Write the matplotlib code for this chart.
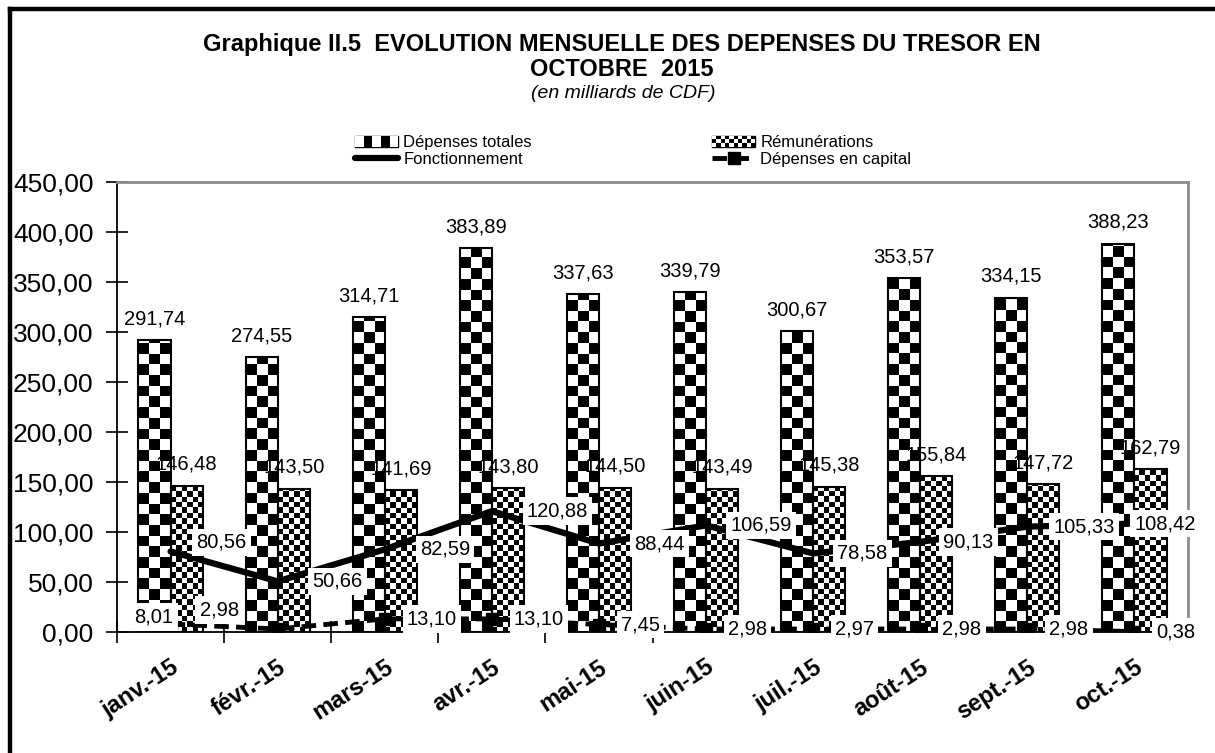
import numpy as np
import matplotlib
matplotlib.use('Agg')
import matplotlib.pyplot as plt
from matplotlib.lines import Line2D
from matplotlib.patches import Rectangle
from matplotlib.legend_handler import HandlerBase
from matplotlib.ticker import FuncFormatter, FixedLocator

plt.rcParams['font.family'] = ['Liberation Sans', 'DejaVu Sans']

# --- donnees ---
mois = ['janv.-15', 'févr.-15', 'mars-15', 'avr.-15', 'mai-15', 'juin-15',
        'juil.-15', 'août-15', 'sept.-15', 'oct.-15']
depenses_totales = [291.74, 274.55, 314.71, 383.89, 337.63, 339.79, 300.67, 353.57, 334.15, 388.23]
remunerations = [146.48, 143.50, 141.69, 143.80, 144.50, 143.49, 145.38, 155.84, 147.72, 162.79]
fonctionnement = [80.56, 50.66, 82.59, 120.88, 88.44, 106.59, 78.58, 90.13, 105.33, 108.42]
capital = [8.01, 2.98, 13.10, 13.10, 7.45, 2.98, 2.97, 2.98, 2.98, 0.38]

# decalage des etiquettes (pixels), place a la main comme dans l'original
fonc_dx = [26, 35, 35, 35, 35, 24, 24, 23, 26, 0]
fonc_dy = [9, 0, 0, 0, 0, 0, 0, 0, 0, 0]
cap_dx = [-36, -78, 22, 22, 22, 22, 22, 22, 22, 22]
cap_dy = [7, 19, 0, 0, 0, 0, 0, 0, 0, 0]


def fr(v):
    return f'{v:.2f}'.replace('.', ',')


def damier(ax, patch, ncol, cell_h, z):
    # remplissage en damier, decoupe a la forme de la barre
    x0, w, h = patch.get_x(), patch.get_width(), patch.get_height()
    nrow = int(np.ceil(h / cell_h))
    img = np.add.outer(np.arange(nrow), np.arange(ncol)) % 2
    im = ax.imshow(img, cmap='gray', vmin=0, vmax=1, origin='lower',
                   extent=(x0, x0 + w, 0, nrow * cell_h), aspect='auto',
                   interpolation='nearest', zorder=z)
    im.set_clip_path(patch)


class HandlerDamier(HandlerBase):
    def __init__(self, ncol):
        super().__init__()
        self.ncol = ncol

    def create_artists(self, legend, orig_handle, xdescent, ydescent, width, height, fontsize, trans):
        arts = [Rectangle((-xdescent, -ydescent), width, height, facecolor='black',
                          edgecolor='black', lw=1, transform=trans)]
        cw = width / self.ncol
        nrow = max(1, int(round(height / cw)))
        ch = height / nrow
        for i in range(nrow):
            for j in range(self.ncol):
                if (i + j) % 2 == 0:
                    arts.append(Rectangle((-xdescent + j * cw, -ydescent + i * ch), cw, ch,
                                          facecolor='white', lw=0, transform=trans))
        return arts


fig = plt.figure(figsize=(12.15, 7.53), dpi=100)
ax = fig.add_axes([117 / 1215, 1 - 632 / 753, (1188 - 117) / 1215, (632 - 182) / 753])

x = np.arange(len(mois))
w = 0.30
b1 = ax.bar(x - w / 2, depenses_totales, w, facecolor='none', edgecolor='black', lw=1.5, zorder=3)
b2 = ax.bar(x + w / 2, remunerations, w, facecolor='none', edgecolor='black', lw=1.5, zorder=3)
for p in b1:
    damier(ax, p, 3, 10.7, 2)
for p in b2:
    damier(ax, p, 6, 5.4, 2)

ax.plot(x, fonctionnement, color='black', lw=4.5, solid_capstyle='round', zorder=4)
ax.plot(x, capital, color='black', lw=3.5, dashes=(3, 1.5), marker='s', ms=8, zorder=4)

lbl = dict(fontsize=14.5, zorder=6)
for i in x:
    ax.annotate(fr(depenses_totales[i]), (b1[i].get_x() + w / 2, depenses_totales[i]),
                xytext=(0, 12), textcoords='offset pixels', ha='center', va='bottom', **lbl)
    ax.annotate(fr(remunerations[i]), (b2[i].get_x() + w / 2, remunerations[i]),
                xytext=(0, 12), textcoords='offset pixels', ha='center', va='bottom', **lbl)
    ax.annotate(fr(fonctionnement[i]), (i, fonctionnement[i]),
                xytext=(fonc_dx[i], fonc_dy[i]), textcoords='offset pixels', ha='left', va='center',
                bbox=dict(facecolor='white', edgecolor='none', pad=3), annotation_clip=False, **lbl)
    ax.annotate(fr(capital[i]), (i, capital[i]),
                xytext=(cap_dx[i], cap_dy[i]), textcoords='offset pixels', ha='left', va='center',
                bbox=dict(facecolor='white', edgecolor='none', pad=3), annotation_clip=False, **lbl)

ax.set_xlim(-0.5, len(mois) - 0.5)
ax.set_ylim(0, 450)
ax.set_yticks(np.arange(0, 451, 50))
ax.yaxis.set_major_formatter(FuncFormatter(lambda v, p: fr(v)))
ax.tick_params(axis='y', direction='inout', length=16, width=1.2, labelsize=19, pad=9)

ax.set_xticks(x)
ax.set_xticklabels(mois, rotation=33, ha='right', rotation_mode='anchor',
                   fontsize=17, fontweight='bold')
ax.xaxis.set_minor_locator(FixedLocator(np.arange(-0.5, len(mois), 1)))
ax.tick_params(axis='x', which='major', length=0, pad=17)
ax.tick_params(axis='x', which='minor', direction='inout', length=16, width=1.2)

for s in ['top', 'right']:
    ax.spines[s].set_color('#8c8c8c')
    ax.spines[s].set_linewidth(2)
for s in ['left', 'bottom']:
    ax.spines[s].set_color('black')
    ax.spines[s].set_linewidth(1.3)

# titre
fig.text(0.512, 1 - 45 / 753, 'Graphique II.5  EVOLUTION MENSUELLE DES DEPENSES DU TRESOR EN',
         ha='center', va='center', fontsize=17, fontweight='bold')
fig.text(0.512, 1 - 69 / 753, 'OCTOBRE  2015', ha='center', va='center', fontsize=17, fontweight='bold')
fig.text(0.513, 1 - 93 / 753, '(en milliards de CDF)', ha='center', va='center', fontsize=14, style='italic')

# legende
h_tot = Rectangle((0, 0), 1, 1)
h_rem = Rectangle((0, 0), 1, 1)
h_fonc = Line2D([], [], color='black', lw=4.5, solid_capstyle='round')
h_cap = Line2D([], [], color='black', lw=3.5, dashes=(3, 1.5), marker='s', ms=8)
fig.legend([h_tot, h_fonc, h_rem, h_cap],
           ['Dépenses totales', 'Fonctionnement', 'Rémunérations', 'Dépenses en capital'],
           handler_map={h_tot: HandlerDamier(5), h_rem: HandlerDamier(10)},
           ncol=2, loc='center left', bbox_to_anchor=(355 / 1215, 1 - 151 / 753), frameon=False,
           fontsize=12, handlelength=2.6, handleheight=0.7, handletextpad=0.3,
           labelspacing=0.1, columnspacing=10.8, borderpad=0, borderaxespad=0)

# cadre
fig.add_artist(Line2D([10 / 1215, 10 / 1215], [0, 1 - 9 / 753], color='black', lw=3.2,
                      transform=fig.transFigure))
fig.add_artist(Line2D([10 / 1215, 1], [1 - 9 / 753, 1 - 9 / 753], color='black', lw=3.2,
                      transform=fig.transFigure))

plt.savefig('out.png', dpi=100)
